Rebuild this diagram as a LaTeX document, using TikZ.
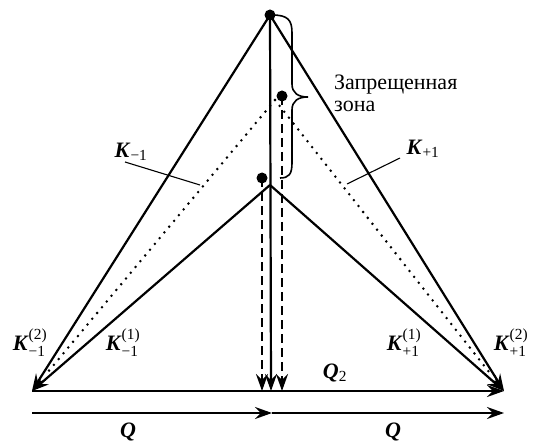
\documentclass[tikz,border=0pt]{standalone}
\usepackage{fontspec}
\setmainfont{Liberation Serif}
\usepackage{amsmath}
\usetikzlibrary{arrows.meta,calc}
\newcommand{\BK}{\textbf{\textit{K}}}
\newcommand{\BQ}{\textbf{\textit{Q}}}
\begin{document}
\begin{tikzpicture}[x=1pt,y=-1pt,
  main/.style={line width=2.2pt},
  thin/.style={line width=1.1pt},
  arr/.style={-{Stealth[length=17pt,width=12pt,inset=6pt]}},
  dotln/.style={line width=2.8pt,line cap=round,dash pattern=on 0pt off 7.5pt},
  dashln/.style={line width=2.2pt,dash pattern=on 9pt off 5pt},
  dot/.style={circle,fill=black,inner sep=0pt,minimum size=11pt},
  lab/.style={font=\fontsize{22}{26}\selectfont,inner sep=0pt},
  txt/.style={font=\fontsize{22}{24}\selectfont,inner sep=0pt,anchor=base west}]
\useasboundingbox (0,0) rectangle (534,443);
% key points
\coordinate (A) at (270,15);
\coordinate (L) at (32,391);
\coordinate (R) at (504,391);
\coordinate (M) at (270,185);
\coordinate (D) at (275,100);
\coordinate (B) at (271,391);
\coordinate (Bl) at (262,391);
\coordinate (Br) at (282,391);
\coordinate (QL) at (32,413);
\coordinate (QM) at (272,413);
\coordinate (QR) at (504,413);
% dots
\node[dot] (top) at (A) {};
\node[dot] (mid) at (282,96) {};
\node[dot] (low) at (262,178) {};
% outer and inner lines
\draw[main,arr] (A) -- (L);
\draw[main,arr] (A) -- (R);
\draw[main,arr] (M) -- (L);
\draw[main,arr] (M) -- (R);
% dotted lines
\draw[dotln] (D) -- ($(D)!0.94!(L)$);
\draw[dotln] (D) -- ($(D)!0.94!(R)$);
% verticals
\draw[main,arr] (A) -- (B);
\draw[dashln,arr] (low.center) -- (Bl);
\draw[dashln,arr] (mid.center) -- (Br);
% horizontals
\draw[main,arr] (L) -- (R);
\draw[main,arr] (QL) -- (QM);
\draw[main,arr] (QM) -- (QR);
% brace
\draw[line width=1.6pt] (272,15) .. controls (288,15) and (292,20) .. (292,33) -- (292,84)
  .. controls (292,93) and (298,97) .. (308,97)
  .. controls (298,97) and (292,101) .. (292,110) -- (292,163)
  .. controls (292,174) and (289,178) .. (280,178);
% labels
\node[txt] (z1) at (334,90) {Запрещенная};
\node[txt] (z2) at (334,112) {зона};
\node[lab] (km) at (131,152) {\BK$_{\text{−1}}$};
\node[lab] (kp) at (423,149) {\BK$_{\text{+1}}$};
\coordinate (km1) at (125,162);
\coordinate (km2) at (200,185);
\coordinate (kp1) at (400,158);
\coordinate (kp2) at (347,184);
\draw[thin] (km1) -- (km2);
\draw[thin] (kp1) -- (kp2);
\node[lab] (k2m) at (30,343) {\BK$^{\text{(2)}}_{\text{−1}}$};
\node[lab] (k1m) at (123,343) {\BK$^{\text{(1)}}_{\text{−1}}$};
\node[lab] (k1p) at (404,343) {\BK$^{\text{(1)}}_{\text{+1}}$};
\node[lab] (k2p) at (511,343) {\BK$^{\text{(2)}}_{\text{+1}}$};
\node[lab] (q2) at (335,373) {\BQ$_{\text{2}}$};
\node[lab] (q1) at (128,432) {\BQ};
\node[lab] (q3) at (393,432) {\BQ};
\end{tikzpicture}
\end{document}
